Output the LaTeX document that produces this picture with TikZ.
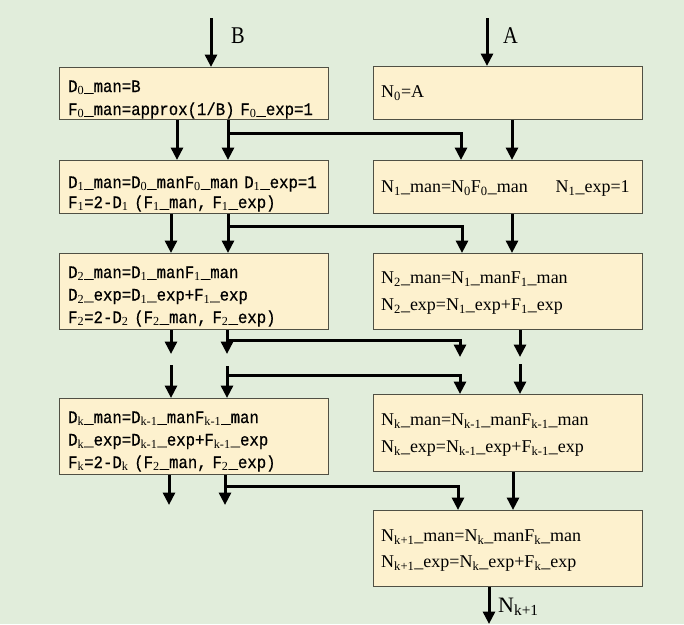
\documentclass[tikz,border=0pt]{standalone}
\usepackage{fontspec}
\setmainfont{Liberation Serif}
\newfontfamily\dfont{Liberation Mono}[FakeStretch=0.895,FakeBold=0.6]
\newfontfamily\labfont{Liberation Serif}[FakeStretch=0.85]
\usetikzlibrary{arrows.meta}
\definecolor{bgc}{RGB}{225,237,219}
\definecolor{boxfill}{RGB}{253,241,206}
\definecolor{boxline}{RGB}{80,80,68}
\newcommand\mysub[1]{\textsubscript{#1}}
\newcommand\dsub[1]{\textsubscript{\rmfamily #1}}
\begin{document}
\begin{tikzpicture}[x=1pt,y=-1pt,
  box/.style={draw=boxline, fill=boxfill, line width=1.3pt, anchor=north west,
    inner sep=0pt, minimum width=269pt},
  dtext/.style={anchor=base west, inner sep=0pt, text width=262pt, align=left,
    font=\dfont\fontsize{17.5}{#1}\selectfont},
  dtext/.default=23,
  ntext/.style={anchor=base west, inner sep=0pt, text width=255pt, align=left,
    font=\fontsize{18}{#1}\selectfont},
  ntext/.default=27,
  flow/.style={line width=3pt, line join=miter, -{Triangle[width=12pt,length=12.5pt]}},
  lbl/.style={font=\labfont\fontsize{24}{24}\selectfont, inner sep=0pt, anchor=base west}
]
\fill[bgc] (0,0) rectangle (684,624);
\useasboundingbox (0,0) rectangle (684,624);

% boxes
\node[box, minimum height=52pt] (d0) at (59,67) {};
\node[box, minimum height=53pt] (d1) at (59,160) {};
\node[box, minimum height=76pt] (d2) at (59,253) {};
\node[box, minimum height=76pt] (dk) at (59,398) {};
\node[box, minimum height=53pt] (n0) at (373,66) {};
\node[box, minimum height=53pt] (n1) at (373,160) {};
\node[box, minimum height=76pt] (n2) at (373,253) {};
\node[box, minimum height=77pt] (nk) at (373,394) {};
\node[box, minimum height=76pt] (nk1) at (373,510) {};

% box texts
\node[dtext=23] (d0t) at (68,92)
  {D\dsub{0}\_man=B\\F\dsub{0}\_man=approx(1/B)~F\dsub{0}\_exp=1};
\node[dtext=20] (d1t) at (68,188)
  {D\dsub{1}\_man=D\dsub{0}\_manF\dsub{0}\_man~D\dsub{1}\_exp=1\\F\dsub{1}=2-D\dsub{1}~(F\dsub{1}\_man,~F\dsub{1}\_exp)};
\node[dtext=22.5] (d2t) at (68,278)
  {D\dsub{2}\_man=D\dsub{1}\_manF\dsub{1}\_man\\D\dsub{2}\_exp=D\dsub{1}\_exp+F\dsub{1}\_exp\\F\dsub{2}=2-D\dsub{2}~(F\dsub{2}\_man,~F\dsub{2}\_exp)};
\node[dtext=22.5] (dkt) at (68,423)
  {D\dsub{k}\_man=D\dsub{k-1}\_manF\dsub{k-1}\_man\\D\dsub{k}\_exp=D\dsub{k-1}\_exp+F\dsub{k-1}\_exp\\F\dsub{k}=2-D\dsub{k}~(F\dsub{2}\_man,~F\dsub{2}\_exp)};

\node[ntext] (n0t) at (381,97.5) {N\mysub{0}=A};
\node[ntext] (n1t) at (381,192.5)
  {N\mysub{1}\_man=N\mysub{0}F\mysub{0}\_man\hspace{28pt}N\mysub{1}\_exp=1};
\node[ntext=27] (n2t) at (381,283.5)
  {N\mysub{2}\_man=N\mysub{1}\_manF\mysub{1}\_man\\N\mysub{2}\_exp=N\mysub{1}\_exp+F\mysub{1}\_exp};
\node[ntext=27] (nkt) at (381,425.5)
  {N\mysub{k}\_man=N\mysub{k-1}\_manF\mysub{k-1}\_man\\N\mysub{k}\_exp=N\mysub{k-1}\_exp+F\mysub{k-1}\_exp};
\node[ntext=26] (nk1t) at (381,541.5)
  {N\mysub{k+1}\_man=N\mysub{k}\_manF\mysub{k}\_man\\N\mysub{k+1}\_exp=N\mysub{k}\_exp+F\mysub{k}\_exp};

% inputs
\coordinate (inB) at (211,18);
\coordinate (inA) at (487,18);
\draw[flow] (inB) -- (inB |- d0.north);
\draw[flow] (inA) -- (inA |- n0.north);
\node[lbl] (lB) at (231,43) {B};
\node[lbl] (lA) at (503,43) {A};

% level 0 -> 1
\coordinate (a0) at (177,0); \coordinate (b0) at (228,0);
\coordinate (c0) at (461,133); \coordinate (m0) at (512,0);
\draw[flow] (d0.south -| a0) -- (d1.north -| a0);
\draw[flow] (d0.south -| b0) -- (d1.north -| b0);
\draw[flow] (b0 |- c0) -- (c0) -- (n1.north -| c0);
\draw[flow] (n0.south -| m0) -- (n1.north -| m0);

% level 1 -> 2
\coordinate (a1) at (171,0); \coordinate (b1) at (228,0);
\coordinate (c1) at (462,226); \coordinate (m1) at (512,0);
\draw[flow] (d1.south -| a1) -- (d2.north -| a1);
\draw[flow] (d1.south -| b1) -- (d2.north -| b1);
\draw[flow] (b1 |- c1) -- (c1) -- (n2.north -| c1);
\draw[flow] (n1.south -| m1) -- (n2.north -| m1);

% level 2 -> open ends
\coordinate (a2) at (171,354); \coordinate (b2) at (227,354);
\coordinate (c2) at (460,340); \coordinate (e2) at (460,357); \coordinate (m2) at (520,357);
\draw[flow] (d2.south -| a2) -- (a2);
\draw[flow] (d2.south -| b2) -- (b2);
\draw[flow] (b2 |- c2) -- (c2) -- (e2);
\draw[flow] (n2.south -| m2) -- (m2);

% open ends -> level k
\coordinate (a3) at (171,365); \coordinate (b3) at (227,366);
\coordinate (c3) at (460,375); \coordinate (m3) at (520,364);
\draw[flow] (a3) -- (dk.north -| a3);
\draw[flow] (b3) -- (dk.north -| b3);
\draw[flow] (b3 |- c3) -- (c3) -- (nk.north -| c3);
\draw[flow] (m3) -- (nk.north -| m3);

% level k -> k+1
\coordinate (a4) at (169,505); \coordinate (b4) at (225,505);
\coordinate (c4) at (458,486); \coordinate (m4) at (513,0);
\draw[flow] (dk.south -| a4) -- (a4);
\draw[flow] (dk.south -| b4) -- (b4);
\draw[flow] (b4 |- c4) -- (c4) -- (nk1.north -| c4);
\draw[flow] (nk.south -| m4) -- (nk1.north -| m4);

% output
\coordinate (out) at (489,624);
\draw[flow] (nk1.south -| out) -- (out);
\node[lbl, font=\fontsize{22}{22}\selectfont] (lN) at (498,612) {N\mysub{k+1}};
\end{tikzpicture}
\end{document}
